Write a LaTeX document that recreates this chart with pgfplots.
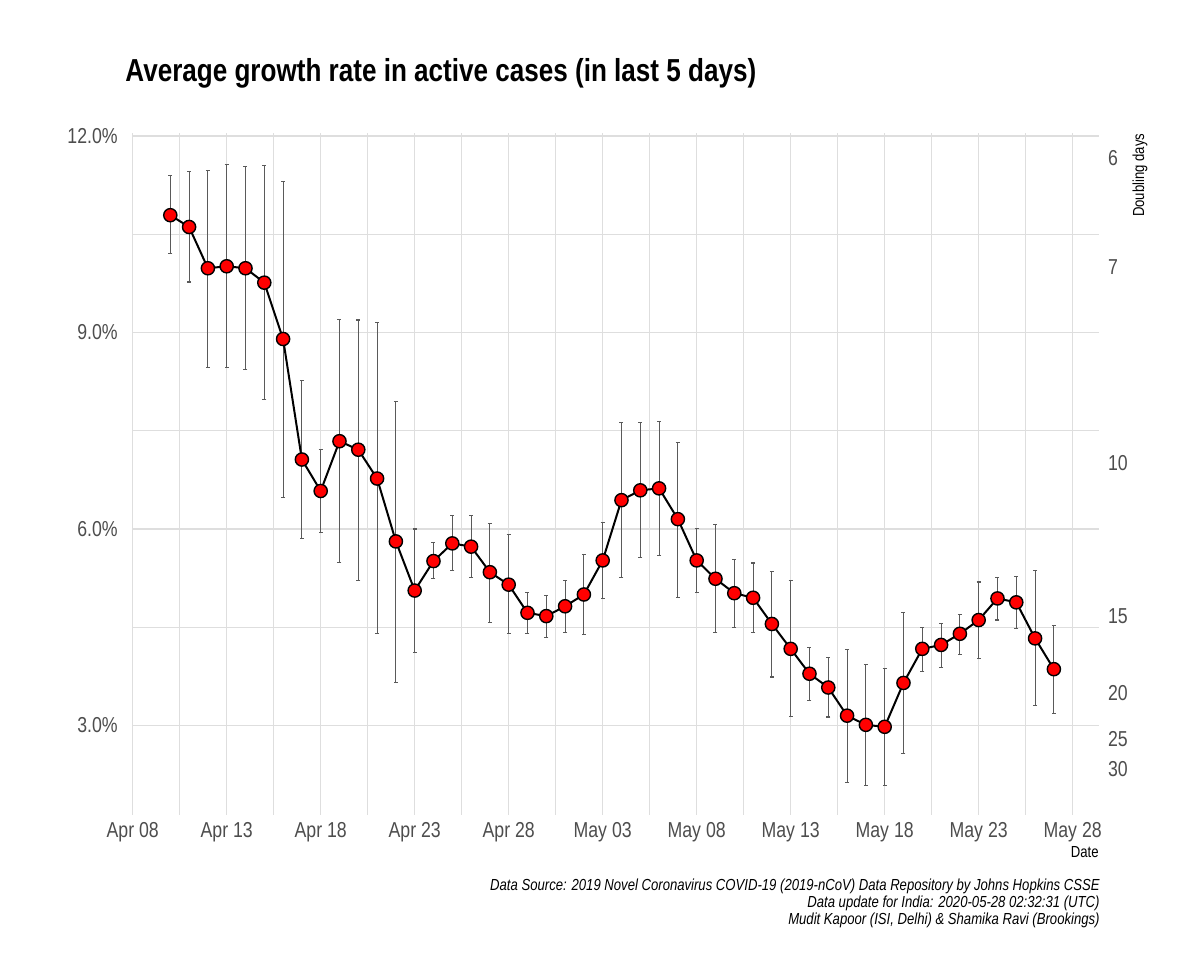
\documentclass[border=0pt]{standalone}
\usepackage{fontspec}
\setmainfont{Liberation Sans}[FakeStretch=0.82]
\usepackage{pgfplots}
\usepackage{pgfplotstable}
\pgfplotsset{compat=1.18}
\definecolor{tickgray}{HTML}{4D4D4D}
\definecolor{gridgray}{HTML}{DEDEDE}
\definecolor{errgray}{HTML}{5A5A5A}
\definecolor{ptred}{HTML}{FF0000}

% x = days since Apr 08
\pgfplotstableread{
x y lo hi
2 10.79 10.20 11.40
3 10.61 9.77 11.45
4 9.98 8.47 11.47
5 10.01 8.46 11.56
6 9.98 8.44 11.53
7 9.76 7.98 11.55
8 8.90 6.48 11.30
9 7.06 5.86 8.27
10 6.58 5.94 7.22
11 7.34 5.49 9.20
12 7.21 5.22 9.19
13 6.77 4.40 9.15
14 5.81 3.66 7.95
15 5.06 4.11 6.00
16 5.51 5.25 5.79
17 5.78 5.36 6.21
18 5.73 5.26 6.21
19 5.34 4.57 6.09
20 5.15 4.41 5.91
21 4.72 4.41 5.03
22 4.67 4.34 4.99
23 4.82 4.42 5.22
24 5.00 4.39 5.61
25 5.52 4.94 6.10
26 6.44 5.26 7.62
27 6.59 5.56 7.62
28 6.62 5.60 7.64
29 6.15 4.95 7.32
30 5.52 5.03 6.01
31 5.24 4.42 6.07
32 5.02 4.50 5.53
33 4.95 4.42 5.48
34 4.55 3.74 5.35
35 4.17 3.14 5.21
36 3.79 3.38 4.19
37 3.58 3.13 4.04
38 3.15 2.13 4.16
39 3.01 2.09 3.93
40 2.98 2.09 3.87
41 3.65 2.57 4.72
42 4.17 3.83 4.49
43 4.23 3.88 4.56
44 4.40 4.08 4.70
45 4.61 4.02 5.19
46 4.94 4.61 5.26
47 4.88 4.48 5.28
48 4.33 3.30 5.37
49 3.86 3.19 4.53
}\growth

\begin{document}
\begin{tikzpicture}
\path[use as bounding box] (0,0) rectangle (600pt,490pt);
\begin{axis}[
  at={(66.35pt,82.5pt)}, anchor=south west,
  scale only axis, width=483.15pt, height=340.85pt,
  xmin=0, xmax=51.4, ymin=1.634, ymax=12.04,
  axis line style={draw=none},
  major tick length=0pt, minor tick length=0pt,
  xtick={0,5,...,50},
  xticklabels={Apr 08,Apr 13,Apr 18,Apr 23,Apr 28,May 03,May 08,May 13,May 18,May 23,May 28},
  minor xtick={2.5,7.5,...,47.5},
  ytick={3,6,9,12},
  yticklabels={3.0\%,6.0\%,9.0\%,12.0\%},
  minor ytick={4.5,7.5,10.5},
  grid=both,
  major grid style={gridgray, line width=0.7pt},
  minor grid style={gridgray, line width=0.5pt},
  ticklabel style={font=\fontsize{10.8}{13}\selectfont, text=tickgray},
  yticklabel style={xshift=-4pt},
]
\addplot[draw=none, mark=none, forget plot,
  error bars/.cd, y dir=both, y explicit,
  error bar style={draw=errgray, line width=0.55pt},
  error mark options={draw=errgray, rotate=90, mark size=1pt, line width=0.55pt}]
  table[x=x, y=y, y error plus expr=\thisrow{hi}-\thisrow{y}, y error minus expr=\thisrow{y}-\thisrow{lo}] {\growth};
\addplot[black, line width=1pt, mark=*, mark size=3.3pt,
  mark options={fill=ptred, draw=black, line width=0.7pt}]
  table[x=x, y=y] {\growth};
\end{axis}
\begin{axis}[
  at={(66.35pt,82.5pt)}, anchor=south west,
  scale only axis, width=483.15pt, height=340.85pt,
  xmin=0, xmax=51.4, ymin=1.634, ymax=12.04,
  axis x line=none, axis y line*=right,
  axis line style={draw=none},
  major tick length=0pt,
  ytick={11.6667,10,7,4.6667,3.5,2.8,2.3333},
  yticklabels={6,7,10,15,20,25,30},
  yticklabel style={font=\fontsize{10.8}{13}\selectfont, text=tickgray, xshift=1pt},
]
\addplot[draw=none, forget plot] coordinates {(10,5)};
\end{axis}
\node[anchor=base west, inner sep=0pt, font=\bfseries\fontsize{15.9}{19}\selectfont] at (62.5pt,449pt) {Average growth rate in active cases (in last 5 days)};
\node[rotate=90, anchor=east, inner sep=0pt, font=\fontsize{8}{9}\selectfont] at (570pt,423.3pt) {Doubling days};
\node[anchor=base east, inner sep=0pt, font=\fontsize{8}{9}\selectfont] at (549.5pt,61pt) {Date};
\node[anchor=base east, inner sep=0pt, font=\itshape\fontsize{8}{9}\selectfont] at (550pt,44.5pt) {Data Source: 2019 Novel Coronavirus COVID-19 (2019-nCoV) Data Repository by Johns Hopkins CSSE};
\node[anchor=base east, inner sep=0pt, font=\itshape\fontsize{8}{9}\selectfont] at (550pt,36pt) {Data update for India: 2020-05-28 02:32:31 (UTC)};
\node[anchor=base east, inner sep=0pt, font=\itshape\fontsize{8}{9}\selectfont] at (550pt,27.5pt) {Mudit Kapoor (ISI, Delhi) \& Shamika Ravi (Brookings)};
\end{tikzpicture}
\end{document}
